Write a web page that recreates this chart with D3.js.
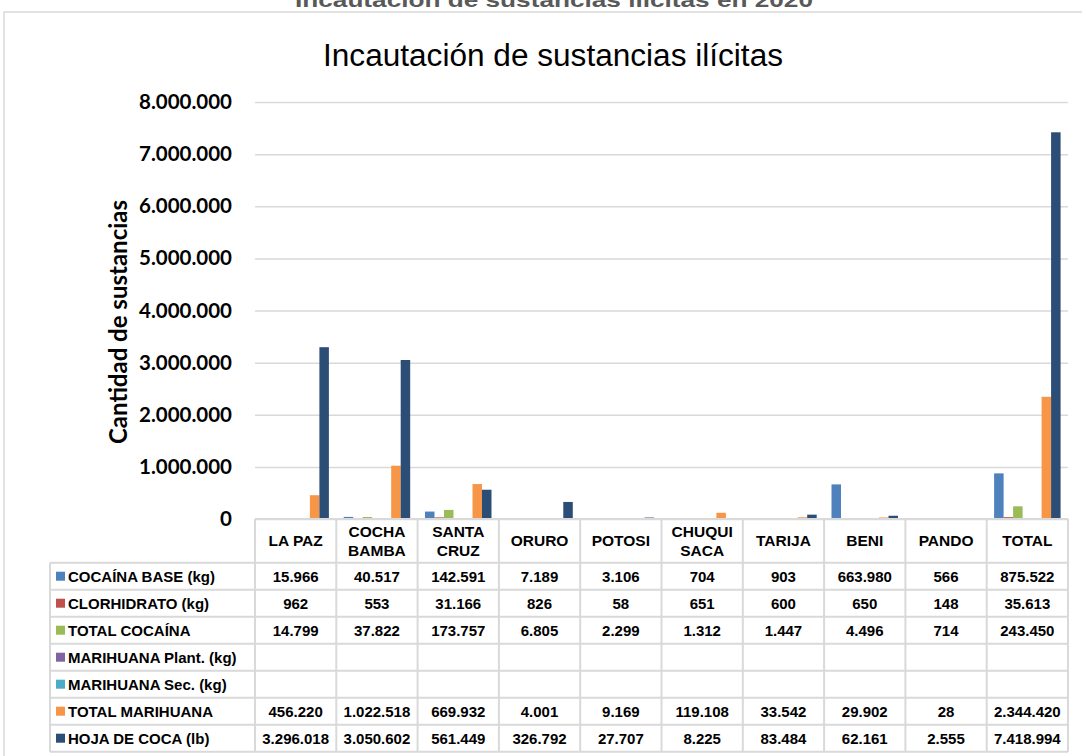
<!DOCTYPE html>
<html>
<head>
<meta charset="utf-8">
<script src="https://cdn.jsdelivr.net/npm/d3@7"></script>
<style>
  html, body { margin: 0; padding: 0; background: #ffffff; }
  svg { display: block; }
</style>
</head>
<body>
<svg id="chart" width="1082" height="756"></svg>
<script>
// ---- data ----
const categories = ["LA PAZ", "COCHA\nBAMBA", "SANTA\nCRUZ", "ORURO", "POTOSI", "CHUQUI\nSACA", "TARIJA", "BENI", "PANDO", "TOTAL"];
const seriesNames = ["COCAÍNA BASE (kg)", "CLORHIDRATO (kg)", "TOTAL COCAÍNA", "MARIHUANA Plant. (kg)", "MARIHUANA Sec. (kg)", "TOTAL MARIHUANA", "HOJA DE COCA (lb)"];
const cocainaBase    = [15966, 40517, 142591, 7189, 3106, 704, 903, 663980, 566, 875522];
const clorhidrato    = [962, 553, 31166, 826, 58, 651, 600, 650, 148, 35613];
const totalCocaina   = [14799, 37822, 173757, 6805, 2299, 1312, 1447, 4496, 714, 243450];
const marihuanaPlant = [null, null, null, null, null, null, null, null, null, null];
const marihuanaSec   = [null, null, null, null, null, null, null, null, null, null];
const totalMarihuana = [456220, 1022518, 669932, 4001, 9169, 119108, 33542, 29902, 28, 2344420];
const hojaCoca       = [3296018, 3050602, 561449, 326792, 27707, 8225, 83484, 62161, 2555, 7418994];
const yTicks = [0, 1000000, 2000000, 3000000, 4000000, 5000000, 6000000, 7000000, 8000000];
const colors = ["#4F81BD", "#C0504D", "#9BBB59", "#8064A2", "#4BACC6", "#F79646", "#2C4D75"];

const seriesValues = [cocainaBase, clorhidrato, totalCocaina, marihuanaPlant, marihuanaSec, totalMarihuana, hojaCoca];

// ---- layout ----
const svg = d3.select("#chart");
const plotLeft = 255, plotRight = 1068, plotTop = 102, plotBottom = 519;
const headerBottom = 562.7, rowH = 27;
const legendLeft = 50;

const loc = d3.formatLocale({decimal: ",", thousands: ".", grouping: [3], currency: ["", ""]});
const fmt = loc.format(",d");

const x = d3.scaleBand().domain(categories).range([plotLeft, plotRight]).padding(0);
const xs = d3.scaleBand().domain(d3.range(seriesNames.length)).range([0, x.bandwidth()]).paddingInner(0).paddingOuter(0.78);
const y = d3.scaleLinear().domain([0, 8000000]).range([plotBottom, plotTop]);

// outer chart border
svg.append("rect").attr("x", 4).attr("y", 12).attr("width", 1100).attr("height", 800)
  .attr("fill", "#fff").attr("stroke", "#d9d9d9").attr("stroke-width", 1.5);

// cut-off top title
svg.append("text").attr("x", 554).attr("y", 7).attr("text-anchor", "middle")
  .attr("font-family", "Liberation Sans, Arial, sans-serif").attr("font-weight", "bold")
  .attr("font-size", 21).attr("fill", "#595959")
  .attr("textLength", 518).attr("lengthAdjust", "spacingAndGlyphs")
  .text("Incautación de sustancias ilícitas en 2020");

// chart title
svg.append("text").attr("x", 553).attr("y", 65.5).attr("text-anchor", "middle")
  .attr("font-family", "Liberation Sans, Arial, sans-serif")
  .attr("font-size", 31).attr("fill", "#000")
  .attr("textLength", 460).attr("lengthAdjust", "spacingAndGlyphs")
  .text("Incautación de sustancias ilícitas");

// y axis with gridlines
const yAxis = d3.axisLeft(y).tickValues(yTicks).tickFormat(fmt)
  .tickSizeInner(-(plotRight - plotLeft)).tickSizeOuter(0).tickPadding(23);
const gy = svg.append("g").attr("transform", `translate(${plotLeft},0)`).call(yAxis);
gy.select(".domain").remove();
gy.selectAll(".tick line").attr("stroke", "#d9d9d9").attr("stroke-width", 1.5);
gy.selectAll(".tick text").attr("font-family", "Lato, 'Open Sans', sans-serif")
  .attr("font-weight", "bold").attr("font-size", 20.5).attr("fill", "#000");

// y axis title
svg.append("text").attr("transform", "translate(127,322) rotate(-90)")
  .attr("text-anchor", "middle")
  .attr("font-family", "Lato, 'Open Sans', sans-serif").attr("font-weight", "bold")
  .attr("font-size", 24).attr("fill", "#000")
  .text("Cantidad de sustancias");

// bars
const barData = [];
categories.forEach((c, ci) => {
  seriesValues.forEach((arr, si) => {
    if (arr[ci] != null) barData.push({c, si, v: arr[ci]});
  });
});
svg.append("g").selectAll("rect").data(barData).join("rect")
  .attr("x", d => x(d.c) + xs(d.si))
  .attr("y", d => y(d.v))
  .attr("width", xs.bandwidth())
  .attr("height", d => y(0) - y(d.v))
  .attr("fill", d => colors[d.si]);

// ---- data table ----
const tbl = svg.append("g");
const lineColor = "#d9d9d9";
const tableBottom = headerBottom + rowH * seriesNames.length;
// horizontal lines
tbl.append("line").attr("x1", plotLeft).attr("x2", plotRight).attr("y1", plotBottom).attr("y2", plotBottom)
  .attr("stroke", lineColor).attr("stroke-width", 2);
d3.range(seriesNames.length + 1).forEach(i => {
  const yy = headerBottom + i * rowH;
  tbl.append("line").attr("x1", legendLeft).attr("x2", plotRight).attr("y1", yy).attr("y2", yy)
    .attr("stroke", lineColor).attr("stroke-width", 2);
});
// vertical lines
tbl.append("line").attr("x1", legendLeft).attr("x2", legendLeft).attr("y1", headerBottom).attr("y2", tableBottom)
  .attr("stroke", lineColor).attr("stroke-width", 2);
categories.concat([null]).forEach((c, i) => {
  const xx = c == null ? plotRight : x(c);
  tbl.append("line").attr("x1", xx).attr("x2", xx).attr("y1", plotBottom).attr("y2", tableBottom)
    .attr("stroke", lineColor).attr("stroke-width", 2);
});

// header labels
categories.forEach(c => {
  const lines = c.split("\n");
  const cx = x(c) + x.bandwidth() / 2;
  const cy = (plotBottom + headerBottom) / 2;
  const t = tbl.append("text").attr("text-anchor", "middle")
    .attr("font-family", "Liberation Sans, Arial, sans-serif").attr("font-weight", "bold")
    .attr("font-size", 15.5).attr("fill", "#000");
  lines.forEach((ln, i) => {
    t.append("tspan").attr("x", cx)
      .attr("y", cy + (i - (lines.length - 1) / 2) * 18.5)
      .attr("dy", "0.36em").text(ln);
  });
});

// legend column + values
seriesNames.forEach((name, si) => {
  const rowTop = headerBottom + si * rowH;
  const cy = rowTop + rowH / 2;
  tbl.append("rect").attr("x", 56).attr("y", cy - 4.5).attr("width", 9).attr("height", 9)
    .attr("fill", colors[si]);
  tbl.append("text").attr("x", 68).attr("y", cy).attr("dy", "0.36em")
    .attr("font-family", "Liberation Sans, Arial, sans-serif").attr("font-weight", "bold")
    .attr("font-size", 15).attr("fill", "#000").text(name);
  categories.forEach((c, ci) => {
    const v = seriesValues[si][ci];
    if (v == null) return;
    tbl.append("text").attr("x", x(c) + x.bandwidth() / 2).attr("y", cy).attr("dy", "0.36em")
      .attr("text-anchor", "middle")
      .attr("font-family", "Liberation Sans, Arial, sans-serif").attr("font-weight", "bold")
      .attr("font-size", 15).attr("fill", "#000").text(fmt(v));
  });
});
</script>
</body>
</html>
